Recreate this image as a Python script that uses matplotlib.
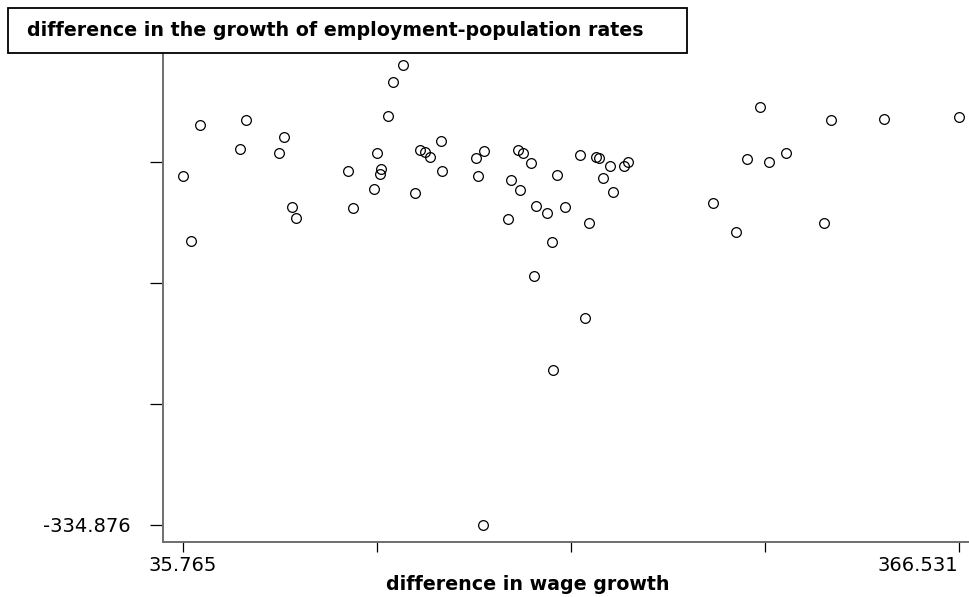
import matplotlib
matplotlib.use("Agg")
import matplotlib.pyplot as plt
from matplotlib.patches import Rectangle

# --- datos: diferencia en crecimiento salarial vs empleo/poblacion ---
wage_diff = [
    42.888, 62.508, 78.844, 59.949, 76.711, 35.765, 106.013, 82.256, 83.834,
    108.145, 39.049, 129.727, 125.334, 123.202, 145.935, 118.638, 136.722,
    138.983, 141.115, 120.088, 119.789, 117.230, 134.590, 146.234, 164.020,
    160.863, 161.716, 178.649, 180.910, 184.322, 175.792, 179.374, 186.199,
    191.146, 174.469, 193.151, 195.411, 205.179, 212.131, 213.283, 217.889,
    225.481, 223.988, 214.775, 219.041, 198.824, 208.719, 276.194, 261.821,
    271.503, 281.867, 312.022, 334.628, 366.531, 292.957, 285.706, 309.292,
    185.474, 207.354, 193.449, 163.849,
]
emp_diff = [
    64.824, 70.424, 53.424, 41.424, 37.424, 14.124, 18.824, -16.576, -27.576,
    -17.576, -50.576, 125.124, 108.424, 73.824, 49.124, 37.124, 40.124,
    38.124, 32.824, 21.124, 16.124, 1.424, -2.876, 18.824, 39.124,
    32.424, 14.124, 39.824, 36.824, 27.424, 9.824, -0.176, -15.376,
    -22.376, -28.876, -51.376, 15.324, 34.924, 33.424, 31.824, 24.124,
    28.424, 23.824, 11.824, -1.676, -17.176, -32.376, 30.824, -12.576,
    -41.576, 83.424, 70.424, 71.424, 72.824, 37.124, 28.124, -32.876,
    -85.576, -127.576, -179.876, -334.876,
]

x_min, x_max = 35.765, 366.531
y_min, y_max = -334.876, 149.124

fig = plt.figure(figsize=(9.69, 5.97), dpi=100)
ax = fig.add_axes([163 / 969, 55.3 / 597, 806 / 969, 500.7 / 597])

ax.plot(wage_diff, emp_diff, "o", mfc="none", mec="black", ms=7, mew=0.9,
        clip_on=False)

paso_x = (x_max - x_min) / 4
paso_y = (y_max - y_min) / 4
ax.set_xlim(x_min - 20 * paso_x / 193.9, x_max + 10.5 * paso_x / 193.9)
ax.set_ylim(y_min - 16.7 * paso_y / 121, y_max)

ax.set_xticks([x_min + i * paso_x for i in range(5)])
ax.set_xticklabels(["35.765", "", "", "", "366.531"])
ax.set_yticks([y_min + i * paso_y for i in range(5)])
ax.set_yticklabels(["-334.876", "", "", "", ""])
ax.get_xticklabels()[-1].set_horizontalalignment("right")

ax.tick_params(axis="x", length=7.5, width=0.9, color="black",
               labelsize=14, pad=3)
ax.tick_params(axis="y", length=9.5, width=0.9, color="black",
               labelsize=14, pad=14)

for s in ["top", "right"]:
    ax.spines[s].set_visible(False)
for s in ["left", "bottom"]:
    ax.spines[s].set_color("#6e6e6e")
    ax.spines[s].set_linewidth(1.4)

# caja del titulo del eje y
caja = Rectangle((8 / 969, (597 - 53) / 597), (687 - 8) / 969, 45 / 597,
                 transform=fig.transFigure, facecolor="white",
                 edgecolor="black", linewidth=1.3, zorder=10)
fig.add_artist(caja)
fig.text(27 / 969, (597 - 31) / 597,
         "difference in the growth of employment-population rates",
         fontsize=13.7, fontweight="bold", va="center", ha="left", zorder=11)

fig.text(528 / 969, (597 - 584) / 597, "difference in wage growth",
         fontsize=13.7, fontweight="bold", va="center", ha="center")

fig.savefig("out.png", dpi=100)
